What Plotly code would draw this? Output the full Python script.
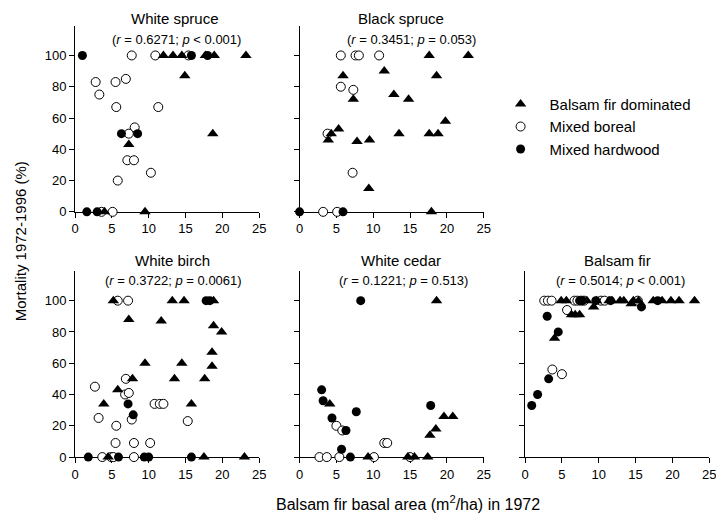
import plotly.graph_objects as go

# ---------------- data ----------------
categories = ["Balsam fir dominated", "Mixed boreal", "Mixed hardwood"]
panel_names = ["White spruce", "Black spruce", "White birch", "White cedar", "Balsam fir"]
panel_stats = [
    "(<i>r</i> = 0.6271; <i>p</i> &lt; 0.001)",
    "(<i>r</i> = 0.3451; <i>p</i> = 0.053)",
    "(<i>r</i> = 0.3722; <i>p</i> = 0.0061)",
    "(<i>r</i> = 0.1221; <i>p</i> = 0.513)",
    "(<i>r</i> = 0.5014; <i>p</i> &lt; 0.001)",
]
x_ticks = [0, 5, 10, 15, 20, 25]
y_ticks = [0, 20, 40, 60, 80, 100]

# White spruce
ws_bfd_x = [12.0, 13.3, 14.5, 17.7, 18.9, 23.2, 14.9, 18.7, 7.3, 9.5, 4.0]
ws_bfd_y = [100, 100, 100, 100, 100, 100, 87, 50, 43, 0, 0]
ws_mb_x = [7.7, 10.9, 15.4, 2.8, 3.3, 5.5, 6.9, 5.6, 11.3, 8.1, 7.3, 7.1, 8.0, 10.3, 5.8, 5.1, 3.6]
ws_mb_y = [100, 100, 100, 83, 75, 83, 85, 67, 67, 54, 50, 33, 33, 25, 20, 0, 0]
ws_mh_x = [1.0, 1.6, 3.0, 6.3, 8.5, 15.8, 18.0]
ws_mh_y = [100, 0, 0, 50, 50, 100, 100]

# Black spruce
bs_bfd_x = [5.9, 11.5, 17.6, 22.9, 18.6, 12.8, 14.8, 7.3, 19.8, 17.6, 18.8, 13.5, 5.3, 4.3, 3.9, 7.8, 9.5, 9.4, 17.9]
bs_bfd_y = [87, 90, 100, 100, 87, 75, 72, 72, 58, 50, 50, 50, 53, 50, 46, 45, 46, 15, 0]
bs_mb_x = [5.6, 7.6, 8.05, 10.8, 5.6, 7.3, 3.8, 7.2, 3.2, 5.1]
bs_mb_y = [100, 100, 100, 100, 80, 78, 50, 25, 0, 0]
bs_mh_x = [0.0, 5.9]
bs_mh_y = [0, 0]

# White birch
wb_bfd_x = [5.2, 13.2, 14.8, 18.8, 7.3, 11.7, 18.8, 19.9, 18.6, 18.6, 9.5, 14.5, 13.5, 17.6, 7.8, 5.8, 3.9, 15.8, 17.5, 23.0, 4.5]
wb_bfd_y = [100, 100, 100, 100, 88, 87, 84, 80, 67, 58, 60, 60, 50, 50, 50, 43, 34, 34, 0, 0, 0]
wb_mb_x = [5.8, 7.2, 6.9, 6.8, 7.3, 2.7, 3.2, 5.6, 7.7, 10.8, 11.5, 12.0, 15.3, 5.5, 8.0, 10.2, 3.7, 4.9, 5.2, 8.0]
wb_mb_y = [100, 100, 50, 40, 41, 45, 25, 20, 24, 34, 34, 34, 23, 9, 9, 9, 0, 0, 0, 0]
wb_mh_x = [17.8, 18.3, 7.2, 7.9, 1.8, 5.9, 9.4, 10.0, 15.8]
wb_mh_y = [100, 100, 34, 27, 0, 0, 0, 0, 0]

# White cedar
wc_bfd_x = [18.6, 4.1, 18.5, 17.7, 19.6, 20.8, 9.3, 14.7, 15.6, 17.4]
wc_bfd_y = [100, 34, 18, 14, 26, 26, 0, 0, 0, 0]
wc_mb_x = [5.0, 5.8, 11.5, 11.9, 2.7, 3.7, 5.4, 10.1, 15.0]
wc_mb_y = [20, 17, 9, 9, 0, 0, 0, 0, 0]
wc_mh_x = [8.3, 3.0, 3.2, 4.4, 6.3, 7.7, 5.7, 6.9, 17.8]
wc_mh_y = [100, 43, 36, 25, 17, 29, 5, 0, 33]

# Balsam fir
bf_bfd_x = [4.0, 6.3, 6.8, 7.4, 9.3, 14.4, 4.9, 5.6, 8.4, 9.7, 11.4, 11.8, 12.9, 13.4, 14.7, 15.4, 17.4, 18.6, 19.8, 20.9, 23.0]
bf_bfd_y = [76, 91, 91, 91, 96, 98, 100, 100, 100, 100, 100, 100, 100, 100, 100, 100, 100, 100, 100, 100, 100]
bf_mb_x = [2.6, 3.1, 3.6, 6.7, 7.1, 7.6, 8.0, 10.3, 10.8, 15.3, 5.7, 3.7, 5.0]
bf_mb_y = [100, 100, 100, 100, 100, 100, 100, 100, 100, 100, 94, 56, 53]
bf_mh_x = [0.9, 1.7, 3.2, 4.5, 3.0, 7.4, 7.8, 9.6, 11.6, 18.0, 15.8]
bf_mh_y = [33, 40, 50, 80, 90, 100, 100, 100, 100, 100, 96]

panel_data = [
    [(ws_bfd_x, ws_bfd_y), (ws_mb_x, ws_mb_y), (ws_mh_x, ws_mh_y)],
    [(bs_bfd_x, bs_bfd_y), (bs_mb_x, bs_mb_y), (bs_mh_x, bs_mh_y)],
    [(wb_bfd_x, wb_bfd_y), (wb_mb_x, wb_mb_y), (wb_mh_x, wb_mh_y)],
    [(wc_bfd_x, wc_bfd_y), (wc_mb_x, wc_mb_y), (wc_mh_x, wc_mh_y)],
    [(bf_bfd_x, bf_bfd_y), (bf_mb_x, bf_mb_y), (bf_mh_x, bf_mh_y)],
]

# ---------------- layout geometry ----------------
W, H = 724, 526
FONT = "Liberation Sans, Arial, sans-serif"
col_px = [(64, 251), (292, 479), (521, 708)]
row_px = [(18, 207), (267, 456)]
panel_pos = [(0, 0), (0, 1), (1, 0), (1, 1), (1, 2)]  # (row, col)
title_y_px = [11, 256]
stat_y_px = [32, 277]
title_dx = [8, 10, 5, 10, 0]     # title offset from panel centre (px)
stat_dx = [10, 20, 6, 12, 3]     # statistics offset from panel centre (px)

marker_styles = [
    dict(symbol="triangle-up", size=10, color="black", line=dict(width=0)),
    dict(symbol="circle", size=9, color="white", line=dict(color="black", width=1)),
    dict(symbol="circle", size=9, color="black", line=dict(width=0)),
]
draw_order = [1, 0, 2]

fig = go.Figure()
layout = dict(
    width=W, height=H,
    margin=dict(l=0, r=0, t=0, b=0),
    paper_bgcolor="white", plot_bgcolor="white",
    font=dict(family=FONT, size=13, color="black"),
    showlegend=True,
    legend=dict(
        x=487 / W, y=1 - 81 / H, xanchor="left", yanchor="top",
        font=dict(family=FONT, size=15, color="black"),
        itemwidth=48, tracegroupgap=0, bgcolor="rgba(0,0,0,0)",
    ),
)
annotations = []

for i, (r, c) in enumerate(panel_pos):
    ax = "" if i == 0 else str(i + 1)
    x0, x1 = col_px[c]
    y0, y1 = row_px[r]
    layout["xaxis" + ax] = dict(
        domain=[x0 / W, x1 / W], range=[0, 25], anchor="y" + ax,
        tickvals=x_ticks, ticks="outside", ticklen=5, tickwidth=1, tickcolor="black",
        showline=True, linecolor="black", linewidth=1, showgrid=False, zeroline=False,
        tickfont=dict(family=FONT, size=13, color="black"), layer="below traces",
        fixedrange=True,
    )
    layout["yaxis" + ax] = dict(
        domain=[1 - y1 / H, 1 - y0 / H], range=[0, 119], anchor="x" + ax,
        tickvals=y_ticks, ticks="outside", ticklen=5, tickwidth=1, tickcolor="black",
        showline=True, linecolor="black", linewidth=1, showgrid=False, zeroline=False,
        showticklabels=(c == 0),
        tickfont=dict(family=FONT, size=13, color="black"), layer="below traces",
        fixedrange=True,
    )
    for k in draw_order:
        xs, ys = panel_data[i][k]
        fig.add_trace(go.Scatter(
            x=xs, y=ys, mode="markers", marker=marker_styles[k],
            name=categories[k], legendgroup=categories[k], legendrank=k + 1,
            showlegend=(i == 0), cliponaxis=False,
            xaxis="x" + ax, yaxis="y" + ax, hoverinfo="skip",
        ))
    xc = (x0 + x1) / 2
    annotations.append(dict(
        text=panel_names[i], x=(xc + title_dx[i]) / W, y=1 - title_y_px[r] / H,
        xref="paper", yref="paper", xanchor="center", yanchor="middle",
        showarrow=False, font=dict(family=FONT, size=15, color="black"),
    ))
    annotations.append(dict(
        text=panel_stats[i], x=(xc + stat_dx[i]) / W, y=1 - stat_y_px[r] / H,
        xref="paper", yref="paper", xanchor="center", yanchor="middle",
        showarrow=False, font=dict(family=FONT, size=13, color="black"),
    ))

annotations.append(dict(
    text="Balsam fir basal area (m<sup>2</sup>/ha) in 1972",
    x=402 / W, y=1 - 503 / H, xref="paper", yref="paper",
    xanchor="center", yanchor="middle", showarrow=False,
    font=dict(family=FONT, size=16, color="black"),
))
annotations.append(dict(
    text="Mortality 1972-1996 (%)", textangle=-90,
    x=9 / W, y=1 - 237 / H, xref="paper", yref="paper",
    xanchor="center", yanchor="middle", showarrow=False,
    font=dict(family=FONT, size=15, color="black"),
))
layout["annotations"] = annotations
fig.update_layout(**layout)
fig.write_html("out.html")
